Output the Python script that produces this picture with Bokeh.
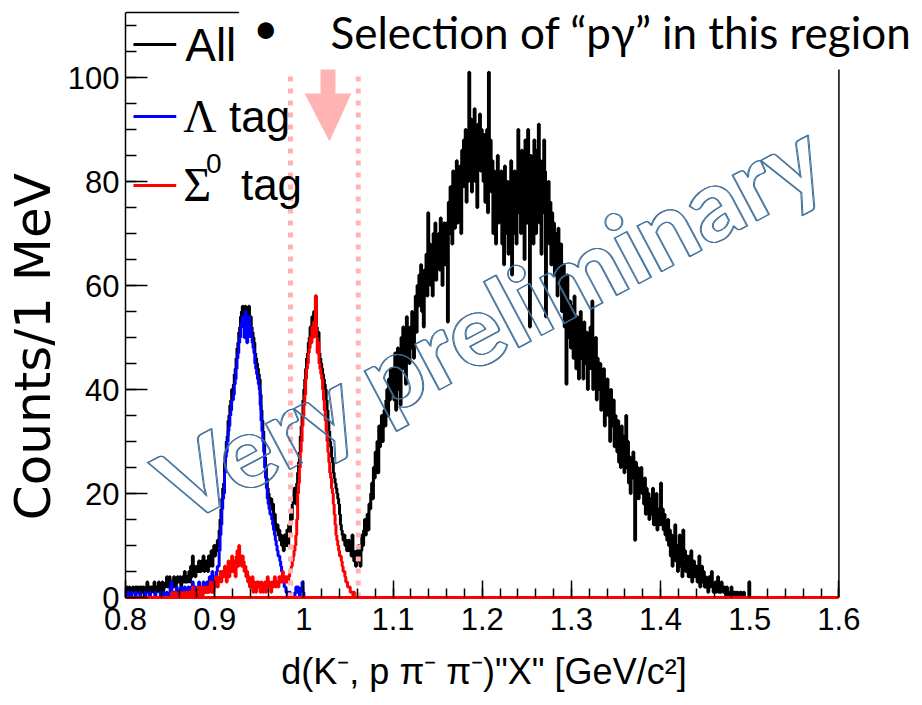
import numpy as np
from bokeh.plotting import figure
from bokeh.models import Range1d, SingleIntervalTicker, Label, CustomJSTickFormatter
from bokeh.embed import file_html
from bokeh.resources import INLINE

# ---------------- data (counts per 1 MeV bin, starting at 0.800 GeV/c^2) -------------
mass_start = 0.8
bin_width = 0.001
n_bins = 800

all_counts = [
    1, 2, 1, 1, 2, 1, 0, 1, 2, 1,   # 0.80
    1, 2, 1, 2, 1, 1, 2, 1, 2, 1,   # 0.81
    2, 1, 1, 2, 3, 1, 2, 2, 1, 2,   # 0.82
    2, 1, 3, 2, 1, 2, 2, 3, 1, 2,   # 0.83
    2, 3, 1, 2, 2, 3, 4, 2, 3, 4,   # 0.84
    2, 3, 3, 2, 4, 3, 2, 3, 4, 3,   # 0.85
    3, 4, 2, 3, 4, 3, 5, 3, 4, 3,   # 0.86
    4, 5, 3, 6, 4, 8, 5, 6, 4, 5,   # 0.87
    6, 5, 7, 6, 5, 7, 6, 8, 5, 7,   # 0.88
    6, 7, 5, 8, 6, 7, 9, 6, 8, 10,  # 0.89
    8, 10, 9, 11, 10, 13, 15, 17, 19, 21,   # 0.90
    22, 26, 28, 30, 31, 34, 35, 37, 38, 40,  # 0.91
    40, 41, 43, 44, 46, 48, 49, 51, 52, 54,  # 0.92
    55, 56, 53, 52, 56, 55, 51, 52, 56, 54,  # 0.93
    54, 52, 51, 50, 49, 47, 46, 45, 44, 43,  # 0.94
    42, 39, 36, 34, 32, 30, 27, 25, 23, 21,  # 0.95
    20, 19, 18, 19, 17, 18, 15, 16, 14, 13,  # 0.96
    14, 12, 13, 11, 12, 10, 11, 9, 12, 10,   # 0.97
    11, 13, 10, 14, 12, 16, 15, 18, 19, 21,  # 0.98
    20, 18, 22, 24, 26, 28, 31, 33, 35, 38,  # 0.99
    40, 42, 44, 46, 47, 49, 50, 52, 51, 54,  # 1.00
    52, 55, 53, 58, 52, 50, 51, 47, 46, 45,  # 1.01
    44, 43, 42, 41, 40, 38, 36, 34, 32, 30,  # 1.02
    29, 27, 26, 24, 23, 22, 21, 20, 19, 18,  # 1.03
    16, 14, 13, 12, 11, 12, 10, 11, 9, 10,   # 1.04
    11, 9, 10, 8, 12, 9, 7, 8, 6, 9,         # 1.05
    7, 10, 8, 6, 9, 12, 10, 13, 15, 12,      # 1.06
    14, 16, 13, 18, 17, 20, 22, 19, 25, 23,  # 1.07
    28, 26, 30, 24, 33, 29, 32, 35, 30, 34,  # 1.08
    36, 33, 38, 40, 35, 42, 38, 44, 41, 39,  # 1.09
    44, 38, 47, 36, 42, 48, 40, 45, 37, 50,  # 1.10
    46, 52, 44, 49, 41, 54, 47, 50, 45, 52,  # 1.11
    48, 55, 50, 46, 53, 58, 51, 60, 56, 62,  # 1.12
    58, 64, 55, 61, 52, 63, 60, 66, 58, 74,  # 1.13
    62, 68, 60, 66, 58, 70, 64, 72, 61, 67,  # 1.14
    65, 70, 63, 73, 66, 60, 69, 72, 64, 68,  # 1.15
    72, 53, 76, 70, 79, 74, 68, 82, 75, 71,  # 1.16
    78, 84, 72, 80, 76, 83, 70, 86, 79, 88,  # 1.17
    82, 90, 76, 87, 80, 101, 85, 92, 78, 89, # 1.18
    84, 94, 80, 88, 75, 91, 86, 93, 82, 90,  # 1.19
    86, 80, 89, 76, 84, 90, 74, 101, 82, 88, # 1.20
    78, 84, 70, 82, 76, 68, 80, 85, 72, 79,  # 1.21
    74, 82, 68, 78, 64, 83, 76, 70, 80, 66,  # 1.22
    78, 72, 84, 62, 77, 70, 82, 74, 68, 80,  # 1.23
    90, 74, 84, 70, 86, 78, 80, 65, 88, 76,  # 1.24
    72, 90, 80, 52, 85, 74, 82, 68, 88, 76,  # 1.25
    70, 86, 78, 91, 72, 84, 66, 80, 74, 88,  # 1.26
    82, 54, 78, 72, 80, 68, 76, 64, 74, 70,  # 1.27
    72, 62, 70, 66, 58, 71, 64, 60, 68, 55,  # 1.28
    60, 64, 52, 58, 41, 62, 55, 50, 57, 48,  # 1.29
    56, 52, 46, 58, 50, 44, 54, 48, 42, 52,  # 1.30
    55, 46, 50, 42, 53, 47, 45, 51, 40, 48,  # 1.31
    46, 52, 44, 57, 40, 48, 43, 50, 38, 46,  # 1.32
    44, 40, 45, 36, 42, 38, 44, 33, 41, 37,  # 1.33
    42, 35, 39, 30, 40, 36, 33, 38, 29, 35,  # 1.34
    32, 28, 34, 26, 30, 25, 33, 27, 31, 24,  # 1.35
    29, 35, 25, 30, 22, 27, 20, 26, 23, 28,  # 1.36
    24, 11, 26, 21, 25, 19, 23, 22, 25, 20,  # 1.37
    22, 18, 23, 16, 21, 17, 20, 15, 19, 16,  # 1.38
    17, 21, 14, 18, 15, 20, 13, 17, 16, 14,  # 1.39
    22, 15, 17, 13, 16, 12, 14, 11, 15, 10,  # 1.40
    13, 8, 12, 6, 11, 9, 14, 7, 10, 5,       # 1.41
    9, 12, 6, 8, 4, 13, 7, 9, 5, 8,          # 1.42
    7, 4, 8, 5, 9, 3, 6, 7, 4, 5,            # 1.43
    6, 3, 5, 8, 2, 4, 6, 3, 5, 2,            # 1.44
    4, 2, 3, 1, 4, 2, 3, 5, 2, 1,            # 1.45
    2, 3, 1, 2, 4, 1, 2, 1, 3, 2,            # 1.46
    1, 2, 1, 0, 2, 1, 0, 1, 1, 2,            # 1.47
    0, 1, 1, 0, 1, 0, 1, 0, 0, 1,            # 1.48
    1, 0, 0, 1, 0, 0, 0, 0, 0, 3,            # 1.49
] + [0] * 100

lambda_counts = [
    1, 1, 0, 1, 0, 0, 1, 0, 0, 0,   # 0.80
    0, 1, 0, 0, 0, 0, 1, 0, 0, 0,   # 0.81
    0, 0, 1, 0, 0, 0, 0, 1, 0, 0,   # 0.82
    0, 0, 0, 1, 0, 0, 0, 0, 0, 1,   # 0.83
    0, 0, 1, 0, 0, 0, 1, 0, 0, 1,   # 0.84
    2, 3, 1, 0, 1, 0, 1, 2, 0, 1,   # 0.85
    0, 1, 2, 0, 1, 0, 2, 1, 0, 1,   # 0.86
    2, 1, 0, 2, 1, 3, 1, 0, 2, 1,   # 0.87
    1, 2, 3, 1, 0, 2, 1, 3, 2, 1,   # 0.88
    2, 3, 1, 2, 4, 2, 3, 5, 3, 4,   # 0.89
    3, 4, 5, 6, 6, 9, 12, 14, 17, 19,        # 0.90
    20, 24, 27, 28, 30, 32, 33, 35, 36, 38,  # 0.91
    38, 39, 41, 42, 44, 46, 47, 49, 50, 52,  # 0.92
    53, 54, 52, 50, 55, 53, 49, 50, 54, 52,  # 0.93
    52, 50, 49, 48, 47, 45, 44, 43, 42, 41,  # 0.94
    40, 37, 34, 32, 30, 28, 25, 23, 21, 19,  # 0.95
    18, 17, 16, 16, 15, 14, 13, 12, 11, 10,  # 0.96
    9, 8, 8, 7, 6, 5, 4, 3, 2, 2,            # 0.97
    1, 1, 1, 0, 1, 0, 0, 0, 0, 0,            # 0.98
    1, 2, 1, 2, 1, 0, 1, 2, 3, 1,            # 0.99
] + [0] * 600

sigma0_counts = [
    0, 0, 0, 0, 0, 0, 0, 0, 0, 0,   # 0.80
    0, 0, 0, 0, 0, 0, 0, 0, 0, 0,   # 0.81
    0, 0, 0, 0, 0, 0, 0, 0, 0, 0,   # 0.82
    0, 0, 0, 0, 0, 0, 0, 0, 0, 0,   # 0.83
    0, 0, 0, 0, 0, 0, 0, 0, 0, 0,   # 0.84
    0, 0, 1, 0, 0, 0, 1, 0, 0, 0,   # 0.85
    0, 1, 0, 0, 0, 1, 0, 0, 1, 0,   # 0.86
    1, 0, 1, 0, 1, 2, 0, 1, 0, 1,   # 0.87
    1, 2, 0, 1, 2, 1, 0, 2, 1, 1,   # 0.88
    2, 1, 2, 1, 2, 3, 1, 2, 1, 3,   # 0.89
    2, 4, 3, 2, 3, 4, 5, 3, 5, 4,   # 0.90
    5, 6, 4, 3, 5, 7, 4, 5, 6, 8,   # 0.91
    5, 7, 6, 4, 8, 9, 6, 10, 7, 8,  # 0.92
    6, 8, 7, 5, 6, 4, 5, 3, 4, 2,   # 0.93
    3, 2, 4, 1, 3, 2, 1, 3, 2, 3,   # 0.94
    2, 1, 3, 2, 1, 2, 3, 1, 2, 4,   # 0.95
    2, 3, 2, 1, 3, 2, 3, 4, 2, 3,   # 0.96
    3, 2, 4, 3, 4, 3, 5, 4, 3, 4,   # 0.97
    3, 4, 3, 4, 5, 5, 6, 7, 8, 9,   # 0.98
    10, 12, 15, 20, 22, 25, 28, 30, 33, 35,  # 0.99
    37, 39, 42, 44, 45, 47, 48, 50, 49, 52,  # 1.00
    50, 53, 51, 58, 50, 47, 49, 45, 44, 43,  # 1.01
    42, 40, 38, 36, 34, 32, 30, 28, 26, 24,  # 1.02
    23, 21, 20, 18, 16, 14, 12, 11, 10, 9,   # 1.03
    8, 8, 7, 6, 5, 5, 4, 3, 3, 2,            # 1.04
    2, 2, 1, 1, 1, 0, 1, 0, 0, 0,            # 1.05
] + [0] * 540

x_axis_range = (0.8, 1.6)
y_axis_range = (0, 112.5)
selection_window = [0.985, 1.061]   # "p gamma" selection region (dotted lines)
legend_labels = ["All", "Λ", "Σ"]

# ---------------- layout helpers (pixel positions of decorations) -------------
# frame spans x 121..922 and y 0..597 of the page; 0.8 -> x=121, 1.6 -> x=838
FL, FB = 121, 597
PX_PER_GEV = 717 / 0.8
PX_PER_COUNT = 585 / 112.5
W, H = 922, 705
NBSP = "\u00a0"


def dx(px):
    return x_axis_range[0] + (px - FL) / PX_PER_GEV


def dy(py):
    return (FB - py) / PX_PER_COUNT


SANS = "Liberation Sans"

p = figure(width=W, height=H, output_backend="svg", toolbar_location=None,
           x_range=Range1d(dx(FL), dx(W)), y_range=Range1d(dy(FB), dy(0)),
           min_border_left=FL, min_border_right=0,
           min_border_top=0, min_border_bottom=H - FB)
p.outline_line_color = None
p.xgrid.visible = False
p.ygrid.visible = False
p.background_fill_color = "white"
p.border_fill_color = "white"

# ---------------- histograms -------------
edges = mass_start + bin_width * np.arange(n_bins + 1)


def draw_hist(counts, color):
    yy = list(counts) + [counts[-1]]
    p.step(x=edges, y=yy, mode="after", line_color=color, line_width=3)


draw_hist(all_counts, "black")
draw_hist(lambda_counts, "#0000ff")
draw_hist(sigma0_counts, "#ff0000")

# ---------------- axes -------------
xa = p.xaxis[0]
xa.bounds = x_axis_range
xa.ticker = SingleIntervalTicker(interval=0.1, num_minor_ticks=5)
xa.formatter = CustomJSTickFormatter(code="return (Math.round(tick*10)/10).toString();")
xa.major_tick_in = 17
xa.major_tick_out = 0
xa.minor_tick_in = 9
xa.minor_tick_out = 0
xa.major_tick_line_width = 1.5
xa.minor_tick_line_width = 1.5
xa.axis_line_width = 3
xa.axis_line_color = "#ff0000"
xa.major_label_text_font = SANS
xa.major_label_text_font_size = "31px"
xa.major_label_text_color = "black"
xa.major_label_standoff = 10
# trailing no-break spaces shift the centred title left, under the data axis
xa.axis_label = 'd(K⁻, p π⁻ π⁻)"X" [GeV/c²]' + NBSP * 8
xa.axis_label_text_font = SANS
xa.axis_label_text_font_size = "36px"
xa.axis_label_text_font_style = "normal"
xa.axis_label_text_color = "black"
xa.axis_label_standoff = 18

ya = p.yaxis[0]
ya.bounds = y_axis_range
ya.ticker = SingleIntervalTicker(interval=20, num_minor_ticks=4)
ya.major_tick_in = 22
ya.major_tick_out = 0
ya.minor_tick_in = 11
ya.minor_tick_out = 0
ya.major_tick_line_width = 1.5
ya.minor_tick_line_width = 1.5
ya.axis_line_width = 1.5
ya.major_label_text_font = SANS
ya.major_label_text_font_size = "31px"
ya.major_label_text_color = "black"
ya.major_label_standoff = 6
ya.axis_label = "Counts/1 MeV" + NBSP * 6
ya.axis_label_text_font = "DejaVu Sans"
ya.axis_label_text_font_size = "50px"
ya.axis_label_text_font_style = "normal"
ya.axis_label_text_color = "black"
ya.axis_label_standoff = 3

# partial frame borders (top and right), partly hidden by the slide text box
p.segment(x0=[x_axis_range[0], x_axis_range[1]], y0=[y_axis_range[1], y_axis_range[0]],
          x1=[dx(235), x_axis_range[1]], y1=[y_axis_range[1], dy(69)],
          line_color="black", line_width=1.5)

# ---------------- selection window and arrow -------------
PINK = "#ffb3b3"
p.segment(x0=selection_window, y0=[0, 0], x1=selection_window, y1=[dy(69), dy(69)],
          line_color=PINK, line_width=5, line_dash="5 7")
arrow_px = [(317, 69), (332, 69), (332, 93), (348, 93), (326, 141), (301, 93), (317, 93)]
p.patch([dx(a) for a, b in arrow_px], [dy(b) for a, b in arrow_px],
        fill_color=PINK, line_color=None)

# ---------------- legend (drawn by hand) -------------
leg_colors = ["black", "#0000ff", "#ff0000"]
leg_y = [44, 116, 185]
p.segment(x0=[dx(129)] * 3, y0=[dy(v) for v in leg_y], x1=[dx(172)] * 3,
          y1=[dy(v) for v in leg_y], line_color=leg_colors, line_width=3)

TEXT_SHIFT = 16   # labels render this many pixels below the requested baseline


def add_text(px, py, text, font=SANS, size="44px", **kw):
    p.add_layout(Label(x=dx(px), y=dy(py - TEXT_SHIFT), text=text, text_font=font,
                       text_font_size=size, text_color="black",
                       text_baseline="alphabetic", **kw))


add_text(181, 60, legend_labels[0], size="46px")
add_text(179, 132, legend_labels[1], font="Liberation Serif", size="46px")
add_text(225, 132, "tag")
add_text(179, 200, legend_labels[2], font="Liberation Serif", size="48px")
add_text(202, 179, "0", size="28px")
add_text(237, 200, "tag")

# ---------------- slide annotations -------------
add_text(262, 42, "•", font="Lato", size="44px", text_align="center")
add_text(327, 47, "Selection of “pγ” in this region", font="Lato", size="44px")

for off in (0.0, 1.0):
    p.add_layout(Label(x=dx(487 + off), y=dy(318), text="Very preliminary", angle=28,
                       angle_units="deg", text_align="center", text_baseline="middle",
                       text_font="'Lato Heavy', 'Lato Semibold', Lato",
                       text_font_size="100px",
                       text_color=(255, 255, 255, 0.0), text_outline_color="#41719c"))

open("out.html", "w").write(file_html(p, INLINE))
